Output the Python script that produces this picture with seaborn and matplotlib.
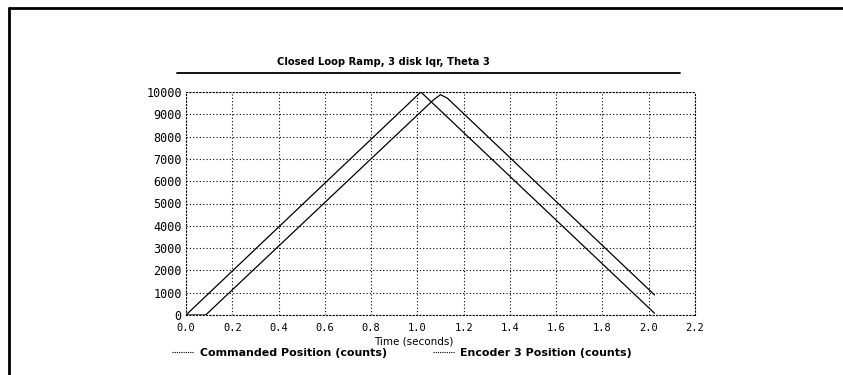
import numpy as np
import pandas as pd
import matplotlib
matplotlib.use("Agg")
import matplotlib.pyplot as plt
from matplotlib.lines import Line2D
import seaborn as sns

# Commanded ramp profile (time in seconds, position in counts)
cmd_time = [0.0, 1.015, 2.025]
cmd_pos = [0, 10000, 80]

# Encoder 3 response, lagging the command with a rounded peak
enc_time = [0.0, 0.085, 1.07, 1.10, 1.13, 2.025]
enc_pos = [0, 0, 9650, 9880, 9720, 900]

x_ticks = [0.0, 0.2, 0.4, 0.6, 0.8, 1.0, 1.2, 1.4, 1.6, 1.8, 2.0, 2.2]
x_tick_labels = ["0.0", "0.2", "0.4", "0.6", "0.8", "1.0", "1.2", "1.4", "1.6", "1.8", "2.0", "2.2"]
y_ticks = [0, 1000, 2000, 3000, 4000, 5000, 6000, 7000, 8000, 9000, 10000]
y_tick_labels = ["0", "1000", "2000", "3000", "4000", "5000", "6000", "7000", "8000", "9000", "10000"]

title = "Closed Loop Ramp, 3 disk lqr, Theta 3"
x_label = "Time (seconds)"
series_names = ["Commanded Position (counts)", "Encoder 3 Position (counts)"]

sns.set_theme(style="white")
plt.rcParams["font.family"] = ["DejaVu Sans"]
plt.rcParams["text.color"] = "black"

W, H = 843, 375
fig = plt.figure(figsize=(W / 100, H / 100), dpi=100)
ax = fig.add_axes([186 / W, 1 - 315 / H, (695 - 186) / W, (315 - 92) / H])

cmd_df = pd.DataFrame({"t": cmd_time, "pos": cmd_pos})
enc_df = pd.DataFrame({"t": enc_time, "pos": enc_pos})
sns.lineplot(data=cmd_df, x="t", y="pos", ax=ax, color="black", linewidth=0.9,
             estimator=None, sort=False)
sns.lineplot(data=enc_df, x="t", y="pos", ax=ax, color="black", linewidth=0.9,
             estimator=None, sort=False)

ax.set_xlim(0, 2.2)
ax.set_ylim(0, 10000)
ax.set_xticks(x_ticks)
ax.set_xticklabels(x_tick_labels)
ax.set_yticks(y_ticks)
ax.set_yticklabels(y_tick_labels)
ax.set_xlabel("")
ax.set_ylabel("")
ax.tick_params(axis="y", length=0, pad=3)
ax.tick_params(axis="x", length=0, pad=6)
for lab in ax.get_xticklabels():
    lab.set_family("DejaVu Sans Mono")
    lab.set_fontsize(7.5)
    lab.set_color("black")
for lab in ax.get_yticklabels():
    lab.set_family("DejaVu Sans Mono")
    lab.set_fontsize(8.5)
    lab.set_color("black")

ax.grid(True, linestyle=(0, (1, 2)), color="black", linewidth=0.8)
for sp in ax.spines.values():
    sp.set_linestyle((0, (1, 2)))
    sp.set_color("black")
    sp.set_linewidth(0.8)

# Title with underline
fig.text(383 / W, 1 - 62 / H, title, ha="center", va="center", fontsize=7.2,
         fontweight="bold", color="black")
fig.add_artist(Line2D([177 / W, 680 / W], [1 - 73 / H, 1 - 73 / H],
                      transform=fig.transFigure, color="black", linewidth=1.3))

fig.text(414 / W, 1 - 341 / H, x_label, ha="center", va="center", fontsize=7.5,
         color="black")

# Legend below the axes
handles = [Line2D([0], [0], color="black", linewidth=0.8, linestyle=(0, (1, 1))),
           Line2D([0], [0], color="black", linewidth=0.8, linestyle=(0, (1, 1)))]
leg = fig.legend(handles, series_names, loc="center", ncol=2,
                 bbox_to_anchor=(402 / W, 1 - 353 / H), frameon=False,
                 handlelength=2.0, handletextpad=0.5, columnspacing=4.2,
                 prop={"weight": "bold", "size": 7.9})
for txt in leg.get_texts():
    txt.set_color("black")

# Outer frame: top and left edges
fig.add_artist(Line2D([9 / W, 1.0], [1 - 8 / H, 1 - 8 / H], transform=fig.transFigure,
                      color="black", linewidth=2))
fig.add_artist(Line2D([9 / W, 9 / W], [0, 1 - 8 / H], transform=fig.transFigure,
                      color="black", linewidth=2))

fig.savefig("out.png", dpi=100)
